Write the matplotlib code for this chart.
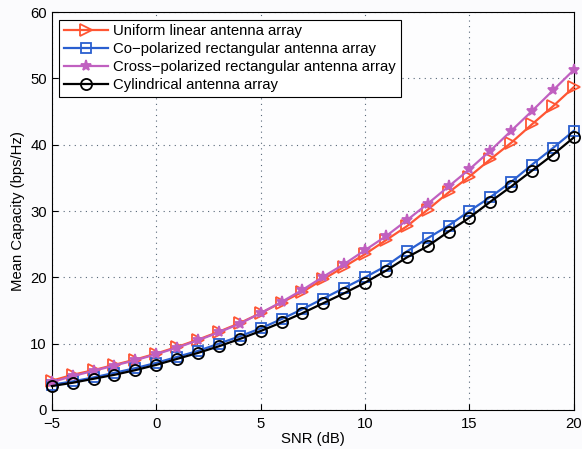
import numpy as np
import matplotlib
matplotlib.use("Agg")
import matplotlib.pyplot as plt

plt.rcParams['font.family'] = ['Liberation Sans', 'DejaVu Sans']

snr = np.arange(-5, 21)

uniform_linear = [4.4, 5.3, 6.0, 6.8, 7.6, 8.5, 9.5, 10.6, 11.8, 13.1, 14.6, 16.2, 17.8,
                  19.7, 21.6, 23.5, 25.6, 27.7, 30.2, 32.8, 35.2, 37.8, 40.3, 43.1, 45.8, 48.7]
co_polarized = [3.8, 4.3, 4.9, 5.6, 6.3, 7.1, 8.0, 8.9, 10.0, 11.1, 12.3, 13.7, 15.2,
                16.8, 18.4, 20.0, 21.7, 23.9, 25.9, 27.8, 30.0, 32.1, 34.4, 37.0, 39.5, 42.1]
cross_polarized = [4.2, 5.1, 5.9, 6.7, 7.5, 8.4, 9.4, 10.5, 11.7, 13.0, 14.6, 16.3, 18.1,
                   20.1, 22.0, 24.1, 26.2, 28.6, 31.1, 33.7, 36.3, 39.1, 42.1, 45.1, 48.2, 51.3]
cylindrical = [3.6, 4.1, 4.7, 5.3, 6.0, 6.8, 7.7, 8.6, 9.6, 10.7, 11.9, 13.2, 14.6,
               16.1, 17.6, 19.2, 21.0, 23.0, 24.7, 26.9, 29.0, 31.4, 33.7, 36.1, 38.5, 41.1]

labels = ['Uniform linear antenna array',
          'Co\u2212polarized rectangular antenna array',
          'Cross\u2212polarized rectangular antenna array',
          'Cylindrical antenna array']

fs = 10.7

fig = plt.figure(figsize=(5.82, 4.49), dpi=100)
fig.patch.set_facecolor('#fbfbfd')
ax = fig.add_axes([0.089, 0.087, 0.897, 0.886])
ax.set_facecolor('#fdfdfe')

style = dict(mew=1.3, lw=1.6, clip_on=False, zorder=3)
ax.plot(snr, uniform_linear, color='#ff5533', marker='>', mfc='none', ms=8,
        label=labels[0], **style)
ax.plot(snr, co_polarized, color='#2a5fd0', marker='s', mfc='none', ms=7,
        label=labels[1], **style)
ax.plot(snr, cross_polarized, color='#c060c0', marker='*', ms=8,
        label=labels[2], **style)
ax.plot(snr, cylindrical, color='black', marker='o', mfc='none', ms=8,
        label=labels[3], **style)

ax.set_xlim(-5, 20)
ax.set_ylim(0, 60)
ax.set_xticks([-5, 0, 5, 10, 15, 20])
ax.set_yticks(range(0, 61, 10))
ax.set_xticklabels(['\u22125', '0', '5', '10', '15', '20'])
ax.tick_params(direction='in', labelsize=fs, length=4)
ax.tick_params(axis='x', pad=5)
ax.grid(True, linestyle=(0, (1, 4)), color='#556677', linewidth=0.8)
ax.set_xlabel('SNR (dB)', fontsize=fs, labelpad=1)
ax.set_ylabel('Mean Capacity (bps/Hz)', fontsize=fs, labelpad=4)

leg = ax.legend(loc='upper left', fontsize=fs, fancybox=False, framealpha=1,
                edgecolor='black', borderaxespad=0.5, handlelength=3.0,
                handletextpad=0.35, labelspacing=0.28, borderpad=0.3)
leg.get_frame().set_linewidth(0.8)
leg.set_zorder(5)

fig.savefig('out.png', dpi=100, facecolor=fig.get_facecolor())
